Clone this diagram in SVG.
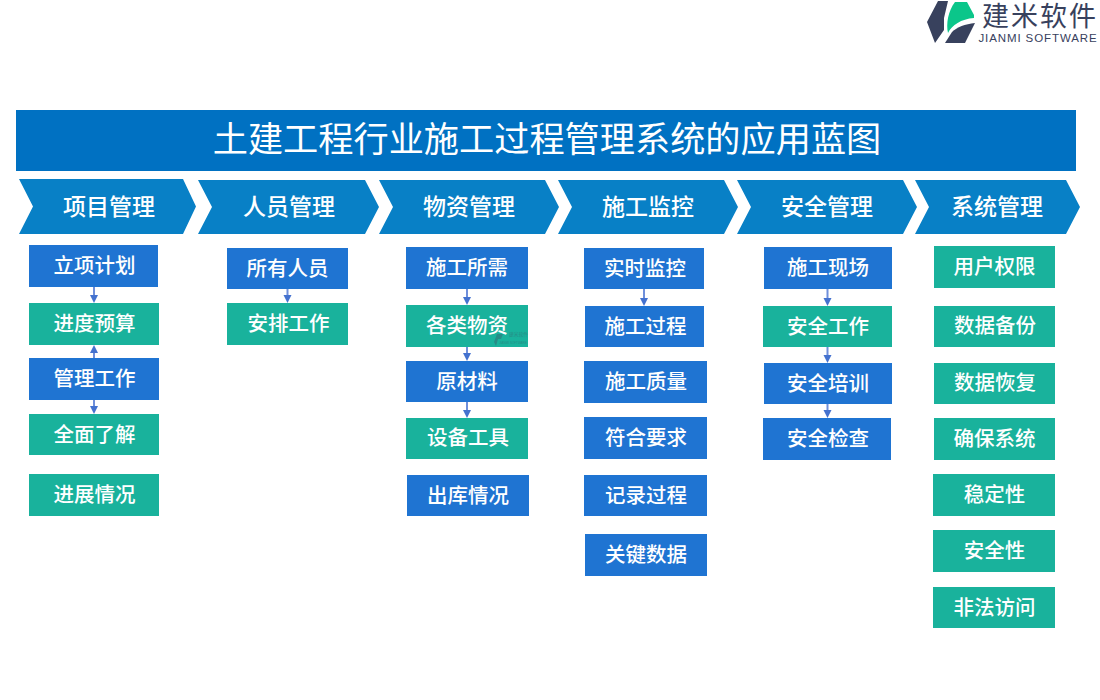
<svg xmlns="http://www.w3.org/2000/svg" width="1100" height="700" viewBox="0 0 1100 700">
<style>
text{font-family:"Liberation Serif","Noto Sans CJK SC",serif;text-anchor:middle;fill:#fff}
.t{font-size:35.200px}
.h{font-size:23px;font-weight:500}
.n{font-size:20.500px;font-weight:500}
.ch{fill:#0880c6}
.b{fill:#1f74d2}
.g{fill:#19b29c}
.c{stroke:#6f8fdb;stroke-width:2;fill:none}
.a{fill:#4472cf}
</style>
<rect width="1100" height="700" fill="#fff"/>
<g id="logo">
<polygon points="927,22 938,1 948,1 944,18 944,30 935,43" fill="#38415d"/>
<path d="M955,2 H967 L974,15 V18 C961,19 952,25 948,33 C946,24 948,11 955,2Z" fill="#0bc68a"/>
<path d="M945,43 L952,32 C957,27 965,24 975,23 L965,43Z" fill="#38415d"/>
<text x="1040" y="26" style="font-family:'Noto Sans CJK SC',sans-serif;font-size:27px;fill:#38415d;letter-spacing:2px">建米软件</text>
<text x="1038" y="42" style="font-family:'Liberation Sans',sans-serif;font-size:11.500px;fill:#38415d;letter-spacing:.9px">JIANMI SOFTWARE</text>
</g>
<g id="title"><rect x="16" y="110" width="1060" height="61" fill="#0071c2"/><text class="t" x="547" y="152">土建工程行业施工过程管理系统的应用蓝图</text></g>
<g id="h1"><polygon class="ch" points="19,179 183,179 196,206.500 183,234 19,234 33,206.500"/><text class="h" x="109" y="214.500">项目管理</text></g>
<g id="h2"><polygon class="ch" points="198,180 365,180 379,207 365,234 198,234 212,207"/><text class="h" x="289" y="214.500">人员管理</text></g>
<g id="h3"><polygon class="ch" points="379,180 545,180 559,207 545,234 379,234 393,207"/><text class="h" x="469" y="214.500">物资管理</text></g>
<g id="h4"><polygon class="ch" points="558,180 724,180 738,207 724,234 558,234 572,207"/><text class="h" x="648" y="214.500">施工监控</text></g>
<g id="h5"><polygon class="ch" points="737,180 903,180 917,207 903,234 737,234 751,207"/><text class="h" x="827" y="214.500">安全管理</text></g>
<g id="h6"><polygon class="ch" points="915,180 1066,180 1080,207 1066,234 915,234 929,207"/><text class="h" x="997" y="214.500">系统管理</text></g>
<g id="n1"><rect class="b" x="29" y="245" width="129" height="42"/><text class="n" x="94.500" y="273">立项计划</text></g>
<g id="n2"><rect class="g" x="29" y="303" width="130" height="42"/><text class="n" x="94.500" y="331">进度预算</text></g>
<g id="n3"><rect class="b" x="29" y="358" width="130" height="42"/><text class="n" x="94.500" y="386">管理工作</text></g>
<g id="n4"><rect class="g" x="29" y="414" width="130" height="41"/><text class="n" x="94.500" y="442">全面了解</text></g>
<g id="n5"><rect class="g" x="29" y="474" width="130" height="42"/><text class="n" x="94.500" y="502">进展情况</text></g>
<g id="n6"><rect class="b" x="227" y="248" width="121" height="41"/><text class="n" x="287.500" y="276">所有人员</text></g>
<g id="n7"><rect class="g" x="227" y="303" width="121" height="42"/><text class="n" x="288.500" y="331">安排工作</text></g>
<g id="n8"><rect class="b" x="406" y="247" width="122" height="42"/><text class="n" x="467" y="275">施工所需</text></g>
<g id="n9"><rect class="g" x="406" y="305" width="122" height="42"/><text class="n" x="467" y="333">各类物资</text>
<g opacity=".45"><path d="M494,342 L497,334 H503 L501,339 L498,339 L496,346Z" fill="#38606d"/><text x="518.500" y="336" style="font-family:'Noto Sans CJK SC',sans-serif;font-size:4.800px;fill:#38606d">建米软件</text><text x="513" y="344" style="font-family:'Liberation Sans',sans-serif;font-size:3px;fill:#38606d">JIANMI SOFTWARE</text></g></g>
<g id="n10"><rect class="b" x="406" y="361" width="122" height="41"/><text class="n" x="467" y="389">原材料</text></g>
<g id="n11"><rect class="g" x="406" y="418" width="122" height="41"/><text class="n" x="468" y="445">设备工具</text></g>
<g id="n12"><rect class="b" x="407" y="475" width="122" height="41"/><text class="n" x="468" y="503">出库情况</text></g>
<g id="n13"><rect class="b" x="584" y="248" width="120" height="41"/><text class="n" x="645" y="276">实时监控</text></g>
<g id="n14"><rect class="b" x="585" y="306" width="119" height="41"/><text class="n" x="645.500" y="334">施工过程</text></g>
<g id="n15"><rect class="b" x="584" y="361" width="123" height="42"/><text class="n" x="646" y="389">施工质量</text></g>
<g id="n16"><rect class="b" x="584" y="417" width="123" height="42"/><text class="n" x="646" y="445">符合要求</text></g>
<g id="n17"><rect class="b" x="584" y="475" width="123" height="41"/><text class="n" x="646" y="503">记录过程</text></g>
<g id="n18"><rect class="b" x="585" y="534" width="122" height="42"/><text class="n" x="646" y="562">关键数据</text></g>
<g id="n19"><rect class="b" x="764" y="247" width="128" height="42"/><text class="n" x="828" y="275">施工现场</text></g>
<g id="n20"><rect class="g" x="763" y="306" width="129" height="41"/><text class="n" x="828" y="334">安全工作</text></g>
<g id="n21"><rect class="b" x="764" y="363" width="128" height="41"/><text class="n" x="828" y="391">安全培训</text></g>
<g id="n22"><rect class="b" x="763" y="418" width="128" height="42"/><text class="n" x="828" y="446">安全检查</text></g>
<g id="n23"><rect class="g" x="934" y="246" width="121" height="42"/><text class="n" x="994.500" y="274">用户权限</text></g>
<g id="n24"><rect class="g" x="934" y="306" width="121" height="41"/><text class="n" x="995" y="333">数据备份</text></g>
<g id="n25"><rect class="g" x="934" y="363" width="121" height="41"/><text class="n" x="995" y="390">数据恢复</text></g>
<g id="n26"><rect class="g" x="934" y="418" width="121" height="42"/><text class="n" x="994.500" y="446">确保系统</text></g>
<g id="n27"><rect class="g" x="933" y="474" width="122" height="42"/><text class="n" x="994.500" y="502">稳定性</text></g>
<g id="n28"><rect class="g" x="933" y="530" width="122" height="42"/><text class="n" x="994.500" y="558">安全性</text></g>
<g id="n29"><rect class="g" x="933" y="587" width="122" height="41"/><text class="n" x="994.500" y="615">非法访问</text></g>
<g id="connectors">
<path class="c" d="M94,287V297M94,352V358M94,400V408M287.500,289V298M467,289V300M467,347V355M467,402V412M644,289V301M827.500,289V301M827.500,347V358M827.500,404V413"/>
<polygon class="a" points="90,295 98,295 94,303"/>
<polygon class="a" points="90,353 98,353 94,345"/>
<polygon class="a" points="90,406 98,406 94,414"/>
<polygon class="a" points="283.500,295 291.500,295 287.500,303"/>
<polygon class="a" points="463,297 471,297 467,305"/>
<polygon class="a" points="463,353 471,353 467,361"/>
<polygon class="a" points="463,410 471,410 467,418"/>
<polygon class="a" points="640,298 648,298 644,306"/>
<polygon class="a" points="823.500,298 831.500,298 827.500,306"/>
<polygon class="a" points="823.500,355 831.500,355 827.500,363"/>
<polygon class="a" points="823.500,410 831.500,410 827.500,418"/>
</g>
</svg>
